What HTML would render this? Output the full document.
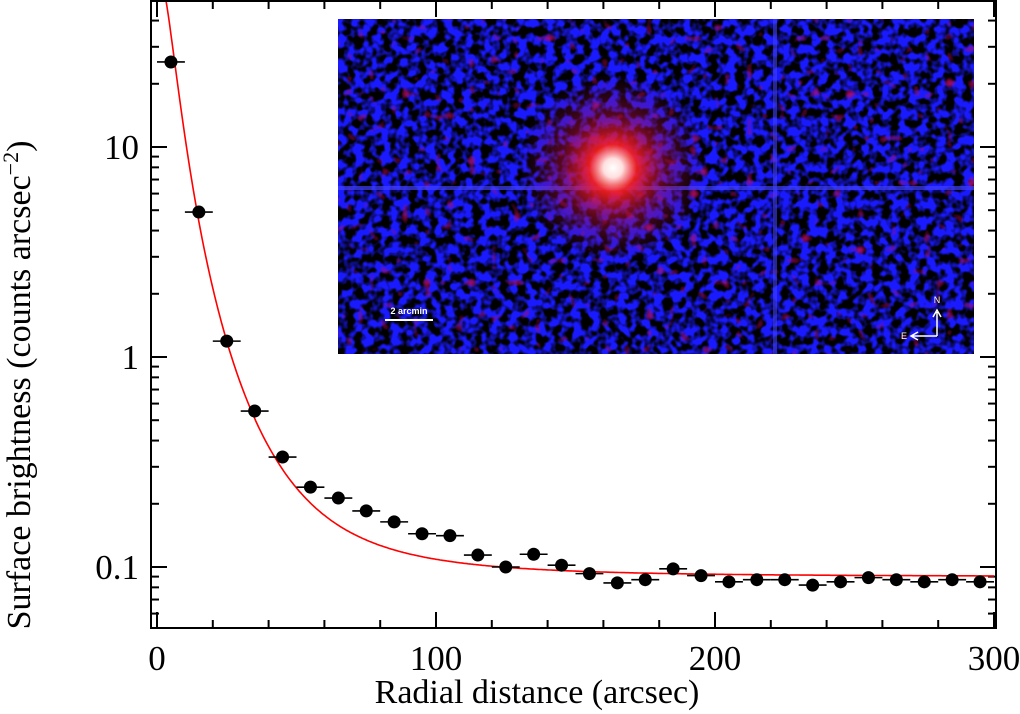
<!DOCTYPE html>
<html><head><meta charset="utf-8"><style>
html,body{margin:0;padding:0;background:#fff;}
svg{display:block;font-family:"Liberation Serif",serif;}
</style></head><body>
<svg id="chart" width="1020" height="714" viewBox="0 0 1020 714">
<defs>
<filter id="noise" x="0" y="0" width="100%" height="100%" color-interpolation-filters="sRGB">
<feTurbulence type="fractalNoise" baseFrequency="0.11" numOctaves="2" seed="7" result="t"/>
<feColorMatrix in="t" type="matrix" values="0 0 0 0 0.1  0 0 0 0 0.1  0 0 0 0 1  0 0 0 4 -1.5"/>
</filter>
<filter id="rnoise" x="0" y="0" width="100%" height="100%" color-interpolation-filters="sRGB">
<feTurbulence type="fractalNoise" baseFrequency="0.09" numOctaves="1" seed="3" result="t"/>
<feColorMatrix in="t" type="matrix" values="0 0 0 0 0.75  0 0 0 0 0.05  0 0 0 0 0.35  5 0 0 0 -3.2"/>
</filter>
<radialGradient id="glow" cx="0.5" cy="0.5" r="0.5">
<stop offset="0" stop-color="#fff" stop-opacity="1"/>
<stop offset="0.1" stop-color="#ffe0e0" stop-opacity="1"/>
<stop offset="0.25" stop-color="#ff2020" stop-opacity="0.9"/>
<stop offset="0.55" stop-color="#c01040" stop-opacity="0.45"/>
<stop offset="1" stop-color="#801060" stop-opacity="0"/>
</radialGradient>
<clipPath id="plotclip"><rect x="151" y="1" width="845" height="627"/></clipPath>
</defs>
<g id="inset">
<rect x="338" y="19" width="636" height="335" fill="#000"/>
<rect x="338" y="19" width="636" height="335" fill="#000" filter="url(#noise)"/>
<rect x="338" y="19" width="636" height="335" fill="#000" filter="url(#rnoise)" opacity="0.8"/>
<rect x="338" y="186" width="636" height="4" fill="#4040ff" opacity="0.7"/>
<rect x="773" y="19" width="4" height="335" fill="#4040ff" opacity="0.6"/>
<circle cx="613" cy="168" r="95" fill="url(#glow)"/>
<line x1="385" y1="320" x2="433" y2="320" stroke="#fff" stroke-width="2"/>
<text x="409" y="314" font-family="Liberation Sans,sans-serif" font-size="9" font-weight="bold" fill="#fff" text-anchor="middle">2 arcmin</text>
<path d="M937 336 L937 312 M933 317 L937 310 L941 317 M937 336 L912 336 M918 332 L911 336 L918 340" stroke="#fff" stroke-width="1.5" fill="none"/>
<text x="937" y="303" font-family="Liberation Sans,sans-serif" font-size="9" fill="#fff" text-anchor="middle">N</text>
<text x="904" y="339" font-family="Liberation Sans,sans-serif" font-size="9" fill="#fff" text-anchor="middle">E</text>
</g>
<g id="axes"></g>
<g id="marks" clip-path="url(#plotclip)"></g>
<rect x="151" y="1" width="845" height="627" fill="none" stroke="#000" stroke-width="2"/>
<text x="537" y="703" font-size="34" text-anchor="middle">Radial distance (arcsec)</text>
<text transform="translate(30,385) rotate(-90)" font-size="34" text-anchor="middle">Surface brightness (counts arcsec<tspan dy="-12" font-size="22">−2</tspan><tspan dy="12">)</tspan></text>
</svg>
<script>
const radii=[5,15,25,35,45,55,65,75,85,95,105,115,125,135,145,155,165,175,185,195,205,215,225,235,245,255,265,275,285,295];
const brightness=[25.4,4.9,1.19,0.553,0.334,0.24,0.213,0.185,0.164,0.144,0.141,0.114,0.1,0.115,0.102,0.093,0.084,0.087,0.098,0.091,0.085,0.087,0.087,0.082,0.085,0.089,0.087,0.085,0.087,0.085];
const binHalfWidth=[5,5,5,5,5,5,5,5,5,5,5,5,5,5,5,5,5,5,5,5,5,5,5,5,5,5,5,5,5,5];
const modelParams=[69,6.5,1.5,0.09]; // S0, rc, exponent, background
const xTicks=[0,100,200,300];
const yTickLabels=["0.1","1","10"];
const yTicks=[0.1,1,10];
const NS='http://www.w3.org/2000/svg';
const X=v=>157+v*(994-157)/300;
const Y=v=>357-210*Math.log10(v);
function mk(tag,attrs,parent){const e=document.createElementNS(NS,tag);for(const k in attrs)e.setAttribute(k,attrs[k]);parent.appendChild(e);return e;}
const axes=document.getElementById('axes'),marks=document.getElementById('marks');
for(let v=0;v<=300;v+=20){const major=v%100===0;const len=major?16:8;
 const t=mk('line',{x1:X(v),x2:X(v),y1:628,y2:628-len,stroke:'#000','stroke-width':2},axes);
 
 
 const t2=mk('line',{x1:X(v),x2:X(v),y1:1,y2:1+len,stroke:'#000','stroke-width':2},axes);
 
 }
xTicks.forEach(v=>{const t=mk('text',{x:X(v),y:670,'font-size':35,'text-anchor':'middle'},axes);t.textContent=v;
 
 });
for(let d=-2;d<=1;d++){for(let m=1;m<=9;m++){const v=m*Math.pow(10,d);const y=Y(v);if(y<1||y>628)continue;const len=m===1?16:8;
 const a=mk('line',{x1:151,x2:151+len,y1:y,y2:y,stroke:'#000','stroke-width':2},axes);
 
 
 const b=mk('line',{x1:996,x2:996-len,y1:y,y2:y,stroke:'#000','stroke-width':2},axes);
 
 }}
yTicks.forEach((v,i)=>{const t=mk('text',{x:139,y:Y(v)+12,'font-size':35,'text-anchor':'end'},axes);t.textContent=yTickLabels[i];
 
 });
const [S0,rc,p,B]=modelParams;let d='';
for(let r=0;r<=300;r+=0.5){const s=S0/Math.pow(1+(r/rc)**2,p)+B;d+=(r?'L':'M')+X(r).toFixed(1)+' '+Y(s).toFixed(1);}
const c=mk('path',{d:d,fill:'none',stroke:'#f00','stroke-width':1.6},marks);


radii.forEach((r,i)=>{const y=Y(brightness[i]);
 const l=mk('line',{x1:X(r-binHalfWidth[i]),x2:X(r+binHalfWidth[i]),y1:y,y2:y,stroke:'#000','stroke-width':1.6},marks);
 
 
 const pt=mk('circle',{cx:X(r),cy:y,r:6.5,fill:'#000'},marks);
 
 });
</script>
</body></html>
